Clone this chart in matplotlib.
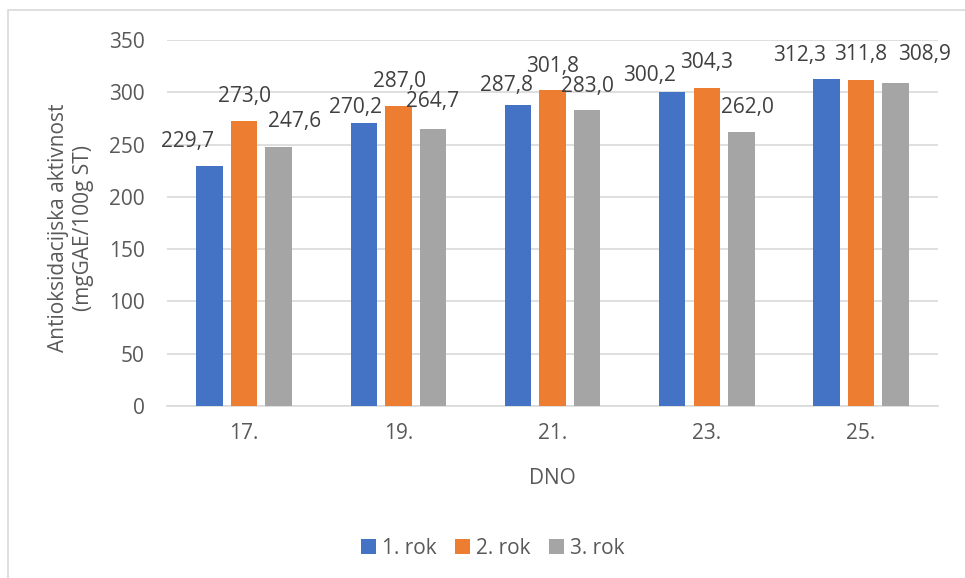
import matplotlib
matplotlib.use("Agg")
import matplotlib.pyplot as plt
from matplotlib.patches import Rectangle
import numpy as np

days = ["17.", "19.", "21.", "23.", "25."]
series_names = ["1. rok", "2. rok", "3. rok"]
rok1 = [229.7, 270.2, 287.8, 300.2, 312.3]
rok2 = [273.0, 287.0, 301.8, 304.3, 311.8]
rok3 = [247.6, 264.7, 283.0, 262.0, 308.9]
values = [rok1, rok2, rok3]

colors = ["#4472C4", "#ED7D31", "#A5A5A5"]
text_color = "#595959"
grid_color = "#D9D9D9"

# label nudges in pixels (dx, dy above bar top), as Excel spread them out
label_offsets = [
    [(-22, 24), (-8, 16), (-12, 20), (-23, 17), (-27, 24)],
    [(0, 24), (1, 24), (0, 24), (0, 25), (0, 25)],
    [(16, 26), (0, 28), (0, 24), (6, 25), (29, 28)],
]

plt.rcParams['font.family'] = ['Open Sans', 'DejaVu Sans']
fs = 15

fig = plt.figure(figsize=(9.65, 5.78), dpi=100)
ax = fig.add_axes([0.1731, 0.2976, 0.799, 0.6332])

x = np.arange(len(days))
width = 0.172
step = 0.224
for i, vals in enumerate(values):
    pos = x + (i - 1) * step
    bars = ax.bar(pos, vals, width, color=colors[i], label=series_names[i], zorder=3)
    for j, b in enumerate(bars):
        dx, dy = label_offsets[i][j]
        ax.annotate(f"{vals[j]:.1f}".replace(".", ","),
                    (b.get_x() + b.get_width() / 2, b.get_height()),
                    xytext=(dx, dy), textcoords="offset pixels",
                    ha="center", va="center", fontsize=fs, color="#404040")

ax.set_xlim(-0.5, len(days) - 0.5)
ax.set_ylim(0, 350)
ax.set_yticks(range(0, 351, 50))
ax.set_xticks(x)
ax.set_xticklabels(days)
ax.tick_params(axis="both", length=0, labelsize=fs, labelcolor=text_color)
ax.tick_params(axis="y", pad=16)
ax.tick_params(axis="x", pad=12)
ax.yaxis.grid(True, color=grid_color, linewidth=1.2, zorder=0)
for s in ["top", "right", "left"]:
    ax.spines[s].set_visible(False)
ax.spines["bottom"].set_color(grid_color)
ax.spines["bottom"].set_linewidth(1.2)

fig.text(71 / 965, 1 - 228 / 578, "Antioksidacijska aktivnost\n(mgGAE/100g ST)",
         rotation=90, ha="center", va="center", fontsize=fs, color=text_color,
         linespacing=1.2)
fig.text(552 / 965, 1 - 478 / 578, "DNO", ha="center", va="center",
         fontsize=fs, color=text_color)

fig.legend(loc="center", bbox_to_anchor=(493 / 965, 1 - 548 / 578), ncol=3,
           frameon=False, fontsize=fs, labelcolor=text_color,
           handlelength=0.7, handleheight=0.7, handletextpad=0.3,
           columnspacing=0.9)

fig.add_artist(Rectangle((8 / 965, -0.1), 2, 1 - 10 / 578 + 0.1,
                         transform=fig.transFigure, fill=False,
                         edgecolor=grid_color, linewidth=1.2))

fig.savefig("out.png", dpi=100)
